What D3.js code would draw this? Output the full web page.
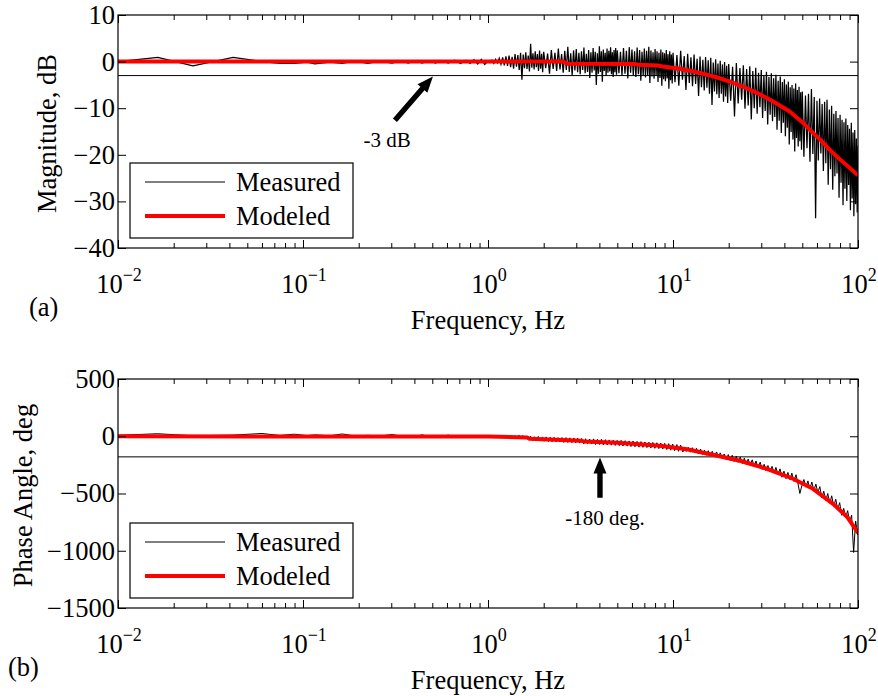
<!DOCTYPE html>
<html>
<head>
<meta charset="utf-8">
<script src="https://cdn.jsdelivr.net/npm/d3@7"></script>
<style>
body { margin: 0; background: #fff; }
svg text { font-family: 'Liberation Serif', 'Times New Roman', serif; fill: #000; }
</style>
</head>
<body>
<div id="chart"></div>
<script>
/* global d3 */

// measured magnitude (Hz, dB)
const magFreq = [
    0.01, 0.0164, 0.0254, 0.0419, 0.06, 0.075, 0.09, 0.105, 0.116, 0.14,
    0.163, 0.19, 0.224, 0.26, 0.303, 0.34, 0.37, 0.41, 0.44, 0.48,
    0.52, 0.56, 0.61, 0.66, 0.71, 0.76, 0.8, 0.84, 0.88, 0.92, 0.96,
    1.000, 1.025, 1.050, 1.075, 1.100, 1.125, 1.150, 1.175, 1.200, 1.225,
    1.250, 1.275, 1.300, 1.325, 1.350, 1.375, 1.400, 1.425, 1.450, 1.475,
    1.500, 1.525, 1.550, 1.575, 1.600, 1.625, 1.650, 1.675, 1.700, 1.725,
    1.750, 1.775, 1.800, 1.825, 1.850, 1.875, 1.900, 1.925, 1.950, 1.975,
    2.00, 2.05, 2.10, 2.15, 2.20, 2.25, 2.30, 2.35, 2.40, 2.45,
    2.50, 2.55, 2.60, 2.65, 2.70, 2.75, 2.80, 2.85, 2.90, 2.95,
    3.00, 3.05, 3.10, 3.15, 3.20, 3.25, 3.30, 3.35, 3.40, 3.45,
    3.50, 3.55, 3.60, 3.65, 3.70, 3.75, 3.80, 3.85, 3.90, 3.95,
    4.00, 4.05, 4.10, 4.15, 4.20, 4.25, 4.30, 4.35, 4.40, 4.45,
    4.50, 4.55, 4.60, 4.65, 4.70, 4.75, 4.80, 4.85, 4.90, 4.95,
    5.0, 5.1, 5.2, 5.3, 5.4, 5.5, 5.6, 5.7, 5.8, 5.9,
    6.0, 6.1, 6.2, 6.3, 6.4, 6.5, 6.6, 6.7, 6.8, 6.9,
    7.0, 7.1, 7.2, 7.3, 7.4, 7.5, 7.6, 7.7, 7.8, 7.9,
    8.0, 8.1, 8.2, 8.3, 8.4, 8.5, 8.6, 8.7, 8.8, 8.9,
    9.0, 9.1, 9.2, 9.3, 9.4, 9.5, 9.6, 9.7, 9.8, 9.9,
    10.0, 10.25, 10.5, 10.75, 11.0, 11.25, 11.5, 11.75, 12.0, 12.25,
    12.5, 12.75, 13.0, 13.25, 13.5, 13.75, 14.0, 14.25, 14.5, 14.75,
    15.0, 15.25, 15.5, 15.75, 16.0, 16.25, 16.5, 16.75, 17.0, 17.25,
    17.5, 17.75, 18.0, 18.25, 18.5, 18.75, 19.0, 19.25, 19.5, 19.75,
    20.0, 20.5, 21.0, 21.5, 22.0, 22.5, 23.0, 23.5, 24.0, 24.5,
    25.0, 25.5, 26.0, 26.5, 27.0, 27.5, 28.0, 28.5, 29.0, 29.5,
    30.0, 30.5, 31.0, 31.5, 32.0, 32.5, 33.0, 33.5, 34.0, 34.5,
    35.0, 35.5, 36.0, 36.5, 37.0, 37.5, 38.0, 38.5, 39.0, 39.5,
    40.0, 40.5, 41.0, 41.5, 42.0, 42.5, 43.0, 43.5, 44.0, 44.5,
    45.0, 45.5, 46.0, 46.5, 47.0, 47.5, 48.0, 48.5, 49.0, 49.5,
    50, 51, 52, 53, 54, 55, 56, 57, 58, 59,
    60, 61, 62, 63, 64, 65, 66, 67, 68, 69,
    70, 71, 72, 73, 74, 75, 76, 77, 78, 79,
    80, 81, 82, 83, 84, 85, 86, 87, 88, 89,
    90, 91, 92, 93, 94, 95, 96, 97, 98, 99,
    100
]

const measuredMag = [
    0, 0.9, -0.9, 0.9, 0.0, -0.4, -0.4, -0.1, -0.5, -0.1,
    -0.4, 0.1, -0.4, 0.1, -0.3, 0.2, -0.3, 0.2, -0.3, 0.2,
    -0.3, 0.2, -0.3, 0.3, -0.4, 0.3, -0.4, 0.4, -0.5, 0.5, -0.6,
    0.1, -0.2, 0.3, -0.4, 0.5, -0.3, 0.7, -0.6, 0.9, -0.8,
    1.1, -0.9, 1.3, -1.2, 1.0, -1.5, 1.6, -1.1, 1.4, -1.8,
    1.9, -3.9, 1.5, -1.4, 2.0, -1.6, 1.3, -2.1, 3.8, -1.3,
    1.8, -1.7, 2.2, -1.2, 1.6, -2.0, 2.4, -1.5, 1.7, -2.3,
    2.1, -1.4, 1.7, -2.6, 2.5, -1.6, 1.9, -2.0, 2.8, -1.7,
    1.6, -2.4, 2.3, -1.8, 3.2, -2.2, 1.8, -3.0, 2.4, -1.9,
    2.7, -2.3, 1.9, -2.7, 2.2, -1.8, 3.0, -2.5, 1.7, -2.2,
    2.5, -3.5, 2.0, -2.4, 2.9, -1.9, 2.1, -5.0, 1.8, -2.6,
    3.3, -2.2, 2.2, -4.3, 2.6, -2.0, 1.9, -3.1, 2.8, -2.4,
    2.3, -2.1, 3.1, -2.7, 2.0, -3.3, 2.5, -2.3, 2.9, -2.8,
    2.4, -2.5, 2.1, -3.0, 2.9, -2.6, 2.3, -3.6, 3.1, -2.4,
    2.6, -2.9, 2.2, -3.3, 3.0, -2.7, 2.5, -4.1, 2.1, -3.0,
    2.8, -3.4, 2.3, -2.9, 3.2, -4.6, 2.4, -3.2, 2.0, -3.7,
    2.7, -3.1, 2.2, -4.4, 1.9, -3.5, 2.6, -5.2, 2.0, -3.8,
    1.8, -4.2, 2.5, -3.6, 1.6, -5.8, 2.2, -4.0, 1.5, -4.7,
    1.9, -4.4, 1.4, -5.2, 2.3, -3.9, 1.2, -6.1, 1.7, -4.6,
    0.9, -5.3, 1.5, -4.8, 0.6, -7.4, 1.1, -5.5, 0.4, -6.2,
    1.0, -5.6, 0.3, -6.9, 0.8, -9.3, -0.2, -6.4, 0.5, -7.0,
    -0.4, -7.8, 0.2, -6.9, -0.6, -8.6, -0.1, -7.5, -0.9, -8.9,
    -0.5, -8.4, -1.1, -11.8, -0.3, -9.0, -1.4, -8.2, -0.8, -10.1,
    -1.6, -9.4, -1.0, -12.4, -2.0, -10.0, -1.3, -11.2, -2.4, -9.8,
    -1.8, -12.1, -2.9, -10.6, -2.2, -13.5, -3.3, -11.4, -2.5, -12.8,
    -3.6, -11.9, -2.8, -14.6, -4.1, -12.7, -3.2, -15.3, -4.4, -13.1,
    -3.8, -16.0, -4.9, -14.2, -4.3, -17.8, -5.5, -15.1, -5.0, -16.7,
    -5.8, -19.3, -4.7, -16.4, -6.1, -18.2, -5.4, -17.1, -6.6, -18.9,
    -6.4, -20.4, -7.3, -18.6, -6.9, -21.5, -5.9, -19.8, -7.6, -33.6,
    -8.4, -21.2, -7.9, -19.7, -9.1, -23.5, -8.6, -21.8, -8.2, -26.4,
    -10.3, -23.1, -9.5, -27.5, -11.2, -24.6, -10.6, -24.0, -12.1, -29.2,
    -11.4, -26.0, -12.5, -30.8, -13.0, -27.3, -12.2, -29.9, -13.6, -26.5,
    -14.4, -31.9, -13.1, -29.4, -15.2, -33.2, -14.7, -30.6, -16.5, -32.4,
    -18.0
]

// measured phase (Hz, deg)
const phaseFreq = [
    0.01, 0.0164, 0.0254, 0.0419, 0.06, 0.075, 0.09, 0.105, 0.116, 0.14,
    0.163, 0.19, 0.224, 0.26, 0.303, 0.34, 0.37, 0.41, 0.44, 0.48,
    0.52, 0.56, 0.61, 0.66, 0.71, 0.76, 0.8, 0.84, 0.88, 0.92, 0.96,
    1.00, 1.02, 1.05, 1.07, 1.10, 1.13, 1.15, 1.18, 1.21, 1.24,
    1.27, 1.30, 1.33, 1.37, 1.40, 1.43, 1.47, 1.50, 1.54, 1.58,
    1.62, 1.66, 1.70, 1.74, 1.78, 1.83, 1.87, 1.92, 1.97, 2.01,
    2.06, 2.12, 2.17, 2.22, 2.28, 2.33, 2.39, 2.45, 2.51, 2.57,
    2.64, 2.70, 2.77, 2.84, 2.91, 2.98, 3.05, 3.13, 3.21, 3.29,
    3.37, 3.45, 3.54, 3.63, 3.72, 3.81, 3.90, 4.00, 4.10, 4.20,
    4.31, 4.41, 4.52, 4.64, 4.75, 4.87, 4.99, 5.12, 5.24, 5.37,
    5.51, 5.65, 5.79, 5.93, 6.08, 6.23, 6.39, 6.55, 6.71, 6.88,
    7.05, 7.23, 7.41, 7.59, 7.78, 7.98, 8.18, 8.38, 8.59, 8.80,
    9.02, 9.25, 9.48, 9.72, 9.96, 10.2, 10.5, 10.7, 11.0, 11.3,
    11.6, 11.8, 12.1, 12.4, 12.7, 13.1, 13.4, 13.7, 14.1, 14.4,
    14.8, 15.2, 15.5, 15.9, 16.3, 16.7, 17.2, 17.6, 18.0, 18.5,
    18.9, 19.4, 19.9, 20.4, 20.9, 21.4, 22.0, 22.5, 23.1, 23.7,
    24.3, 24.9, 25.5, 26.1, 26.8, 27.5, 28.1, 28.8, 29.6, 30.3,
    31.1, 31.8, 32.6, 33.5, 34.3, 35.2, 36.0, 36.9, 37.9, 38.8,
    39.8, 40.8, 41.8, 42.9, 43.9, 45.0, 46.2, 47.3, 48.5, 49.7,
    51.0, 52.3, 53.6, 54.9, 56.3, 57.7, 59.2, 60.6, 62.2, 63.7,
    65.3, 67.0, 68.6, 70.4, 72.1, 73.9, 75.8, 77.7, 79.6, 81.6,
    83.7, 85.8, 87.9, 90.1, 92.4, 94.7, 97.1, 99.5, 100
]

const measuredPhase = [
    8, 22, 4, 10, 24, 7, 18, 5, 12, 4,
    20, 3, 8, 2, 15, 1, 6, 0, 12, -1,
    4, -2, 10, -3, 2, -4, 6, -3, 0, -4, -3,
    2, -10, 4, -12, 6, -14, 3, -11, 8, -15,
    5, -18, 8, -16, 4, -20, 10, -14, 6, -22,
    2, -34, 0, -38, -4, -40, -2, -42, -6, -44,
    -6, -46, -8, -48, -9, -50, -12, -50, -11, -54,
    -12, -54, -14, -56, -15, -58, -17, -60, -20, -68,
    -22, -66, -24, -68, -23, -72, -27, -72, -27, -75,
    -30, -76, -32, -78, -34, -80, -36, -82, -36, -85,
    -39, -86, -41, -90, -42, -92, -45, -95, -47, -97,
    -50, -99, -52, -103, -54, -105, -57, -108, -60, -112,
    -62, -116, -65, -121, -68, -126, -73, -131, -78, -138,
    -94, -133, -97, -139, -100, -145, -106, -152, -112, -160,
    -122, -166, -126, -172, -131, -180, -137, -188, -145, -196,
    -155, -204, -160, -212, -166, -220, -174, -228, -181, -238,
    -192, -246, -199, -254, -206, -264, -216, -274, -226, -290,
    -245, -300, -256, -312, -263, -322, -272, -334, -285, -358,
    -305, -370, -316, -380, -322, -394, -336, -408, -500, -432,
    -378, -445, -390, -458, -400, -474, -418, -490, -440, -538,
    -480, -560, -500, -585, -520, -612, -550, -640, -580, -690,
    -630, -712, -650, -745, -690, -1015, -740, -860, -843
]

// modeled response
const modelMagFreq = [0.01, 1, 2.55, 2.7, 6.2, 6.5, 8.3, 8.8, 10.9, 12.5, 14, 17, 20.3, 24, 28.4, 35, 42.9, 50, 57.1, 63, 70.6, 80, 90, 100]
const modelMag = [0, 0, 0, -0.45, -0.5, -0.7, -0.85, -1.05, -1.55, -2.0, -2.45, -3.3, -4.3, -5.4, -6.7, -8.6, -10.75, -13.0, -15.3, -16.9, -19.0, -21.0, -22.8, -24.4]
const modelPhaseFreq = [0.01, 1.0, 1.62, 1.68, 3.2, 3.3, 5.0, 6.6, 8.5, 11.9, 16.4, 23, 32.2, 44.5, 57.1, 73.3, 87.2, 100]
const modelPhase = [0, -3, -10, -22, -40, -45, -57, -70, -83, -114, -162, -214, -284, -371, -459, -590, -703, -843]

const decades = [-2, -1, 0, 1, 2]
const magTicks = [-40, -30, -20, -10, 0, 10]
const phaseTicks = [-1500, -1000, -500, 0, 500]
const legendNames = ['Measured', 'Modeled']

const svgWidth = 878
const svgHeight = 696
const fontSize = 26.5

let svg = d3.select('#chart').append('svg')
    .attr('width', svgWidth)
    .attr('height', svgHeight)

let minus = function (v) {
    return String(v).replace('-', '\u2212')
}

let BodePanel = function (box, yDomain, yTicks, id) {
    this.box = box
    this.x = d3.scaleLog().domain([0.01, 100]).range([box.left, box.right])
    this.y = d3.scaleLinear().domain(yDomain).range([box.bottom, box.top])
    this.g = svg.append('g').attr('class', 'panel_' + id)

    svg.append('clipPath')
        .attr('id', 'clip_' + id)
        .append('rect')
        .attr('x', box.left)
        .attr('y', box.top)
        .attr('width', box.right - box.left)
        .attr('height', box.bottom - box.top)
    this.plot = this.g.append('g').attr('clip-path', 'url(#clip_' + id + ')')
    this.yTicks = yTicks
}

BodePanel.prototype.axes = function (yTitle, yTitleX, tag, tagX) {
    let box = this.box
    let x = this.x
    let y = this.y
    let minors = []
    decades.slice(0, -1).forEach(function (d) {
        for (let m = 2; m <= 9; m++) minors.push(m * Math.pow(10, d))
    })
    let majors = decades.map(function (d) { return Math.pow(10, d) })

    let frame = this.g.append('g').attr('class', 'axes')

    let addAxis = function (axis, transform) {
        let a = frame.append('g')
            .attr('transform', transform)
            .call(axis.tickSizeOuter(0))
        a.select('.domain').remove()
        a.selectAll('line').attr('stroke', '#000').attr('stroke-width', 1)
        return a
    }

    addAxis(d3.axisBottom(x).tickValues(minors).tickSize(-5).tickFormat(''), 'translate(0,' + box.bottom + ')')
    addAxis(d3.axisBottom(x).tickValues(majors).tickSize(-8).tickFormat(''), 'translate(0,' + box.bottom + ')')
    addAxis(d3.axisTop(x).tickValues(minors).tickSize(-5).tickFormat(''), 'translate(0,' + box.top + ')')
    addAxis(d3.axisTop(x).tickValues(majors).tickSize(-8).tickFormat(''), 'translate(0,' + box.top + ')')
    addAxis(d3.axisRight(y).tickValues(this.yTicks).tickSize(-8).tickFormat(''), 'translate(' + box.right + ',0)')

    let left = addAxis(d3.axisLeft(y).tickValues(this.yTicks).tickSize(-8).tickPadding(3).tickFormat(minus),
        'translate(' + box.left + ',0)')
    left.attr('font-family', null).attr('font-size', null)
    left.selectAll('text').attr('font-size', fontSize)

    frame.append('rect')
        .attr('x', box.left)
        .attr('y', box.top)
        .attr('width', box.right - box.left)
        .attr('height', box.bottom - box.top)
        .attr('fill', 'none')
        .attr('stroke', '#000')
        .attr('stroke-width', 1.2)

    // decade labels with superscripts
    let labels = frame.selectAll('.xlabel')
        .data(decades)
        .enter().append('text')
        .attr('class', 'xlabel')
        .attr('x', function (d) { return x(Math.pow(10, d)) + 1 })
        .attr('y', box.bottom + 45)
        .attr('text-anchor', 'middle')
        .attr('font-size', fontSize)
    labels.append('tspan').text('10')
    labels.append('tspan')
        .attr('dy', -12)
        .attr('font-size', 18)
        .text(function (d) { return minus(d) })

    frame.append('text')
        .attr('x', (box.left + box.right) / 2)
        .attr('y', box.bottom + 81)
        .attr('text-anchor', 'middle')
        .attr('font-size', fontSize)
        .text('Frequency, Hz')

    frame.append('text')
        .attr('transform', 'translate(' + yTitleX + ',' + ((box.top + box.bottom) / 2 + 2) + ') rotate(-90)')
        .attr('text-anchor', 'middle')
        .attr('font-size', fontSize)
        .text(yTitle)

    frame.append('text')
        .attr('x', tagX)
        .attr('y', box.bottom + 68)
        .attr('font-size', fontSize)
        .text(tag)
}

BodePanel.prototype.refLine = function (value) {
    this.plot.append('line')
        .attr('x1', this.box.left)
        .attr('x2', this.box.right)
        .attr('y1', this.y(value))
        .attr('y2', this.y(value))
        .attr('stroke', '#000')
        .attr('stroke-width', 1)
}

BodePanel.prototype.lines = function (mFreq, mVal, fFreq, fVal, mWidth) {
    let x = this.x
    let y = this.y
    let line = d3.line()
        .x(function (d) { return x(d[0]) })
        .y(function (d) { return y(d[1]) })

    this.plot.append('path')
        .attr('d', line(d3.zip(mFreq, mVal)))
        .attr('fill', 'none')
        .attr('stroke', '#000')
        .attr('stroke-width', mWidth)

    this.plot.append('path')
        .attr('d', line(d3.zip(fFreq, fVal)))
        .attr('fill', 'none')
        .attr('stroke', '#ff0000')
        .attr('stroke-width', 4)
        .attr('stroke-linejoin', 'round')
}

BodePanel.prototype.arrow = function (tail, tip, text, textAt) {
    let x0 = this.x(tail[0])
    let y0 = this.y(tail[1])
    let x1 = this.x(tip[0])
    let y1 = this.y(tip[1])
    let len = Math.hypot(x1 - x0, y1 - y0)
    let ux = (x1 - x0) / len
    let uy = (y1 - y0) / len
    let nx = -uy
    let ny = ux
    let shaft = 2.7
    let head = 6.5
    let bx = x1 - ux * 16
    let by = y1 - uy * 16
    let pts = [
        [x0 + nx * shaft, y0 + ny * shaft],
        [bx + nx * shaft, by + ny * shaft],
        [bx + nx * head, by + ny * head],
        [x1, y1],
        [bx - nx * head, by - ny * head],
        [bx - nx * shaft, by - ny * shaft],
        [x0 - nx * shaft, y0 - ny * shaft]
    ]
    this.g.append('polygon')
        .attr('points', pts.map(function (p) { return p.join(',') }).join(' '))
        .attr('fill', '#000')

    this.g.append('text')
        .attr('x', this.x(textAt[0]))
        .attr('y', this.y(textAt[1]))
        .attr('text-anchor', 'middle')
        .attr('font-size', 21)
        .text(text)
}

BodePanel.prototype.legend = function () {
    let lx = this.box.left + 12
    let ly = this.box.bottom - 85
    let lg = this.g.append('g').attr('class', 'legend')
    lg.append('rect')
        .attr('x', lx)
        .attr('y', ly)
        .attr('width', 223)
        .attr('height', 75)
        .attr('fill', '#fff')
        .attr('stroke', '#000')
        .attr('stroke-width', 1.2)
    let styles = [{ color: '#000', width: 1 }, { color: '#ff0000', width: 4 }]
    legendNames.forEach(function (name, i) {
        let yy = ly + 19 + i * 34
        lg.append('line')
            .attr('x1', lx + 15)
            .attr('x2', lx + 95)
            .attr('y1', yy)
            .attr('y2', yy)
            .attr('stroke', styles[i].color)
            .attr('stroke-width', styles[i].width)
        lg.append('text')
            .attr('x', lx + 106)
            .attr('y', yy + 9)
            .attr('font-size', fontSize)
            .text(name)
    })
}

// (a) magnitude
let mag = new BodePanel({ left: 118, right: 858, top: 15, bottom: 248 }, [-40, 10], magTicks, 'mag')
mag.refLine(-3)
mag.lines(magFreq, measuredMag, modelMagFreq, modelMag, 1.25)
mag.axes('Magnitude, dB', 56, '(a)', 29)
mag.arrow([0.314, -12.6], [0.504, -3.2], '-3 dB', [0.285, -18.4])
mag.legend()

// (b) phase
let phase = new BodePanel({ left: 118, right: 858, top: 379, bottom: 608 }, [-1500, 500], phaseTicks, 'phase')
phase.refLine(-180)
phase.lines(phaseFreq, measuredPhase, modelPhaseFreq, modelPhase, 1)
phase.axes('Phase Angle, deg', 32, '(b)', 8)
phase.arrow([4.03, -537], [4.03, -185], '-180 deg.', [4.29, -773])
phase.legend()
</script>
</body>
</html>
